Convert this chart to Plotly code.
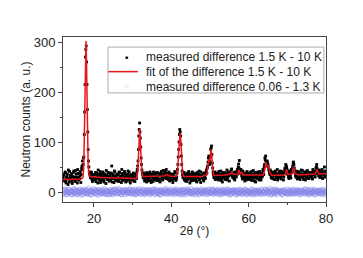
import numpy as np
import plotly.graph_objects as go

# measurement grids (2theta, degrees): even and odd sampling points
grid_even = np.round(np.arange(12.0, 80.0001, 0.2), 2)
grid_odd = np.round(np.arange(12.1, 79.95, 0.2), 2)

meas_15_10_even = [
    28, 35, 22, 40, 18, 31, 26, 44, 20, 33,
    29, 37, 17, 25, 42, 30, 21, 36, 27, 45,
    24, 38, 32, 19, 47, 62, 55, 70, 160, 270,
    292, 215, 120, 62, 40, 33, 28, 38, 21, 35,
    30, 24, 39, 27, 33, 18, 36, 29, 41, 23,
    32, 26, 37, 20, 34, 28, 43, 25, 31, 38,
    22, 35, 29, 52, 27, 33, 19, 40, 30, 24,
    36, 28, 21, 39, 26, 32, 45, 23, 34, 29,
    37, 20, 31, 27, 42, 25, 33, 18, 35, 28,
    24, 38, 29, 21, 34, 27, 45, 62, 112, 138,
    108, 68, 44, 35, 28, 38, 24, 32, 20, 36,
    29, 22, 37, 31, 19, 34, 27, 40, 25, 30,
    35, 23, 29, 38, 26, 21, 33, 41, 28, 24,
    36, 30, 42, 27, 38, 33, 25, 40, 22, 31,
    28, 35, 19, 32, 26, 38, 23, 30, 45, 70,
    100, 125, 112, 72, 42, 30, 36, 24, 33, 27,
    21, 38, 29, 34, 18, 31, 26, 40, 23, 35,
    30, 24, 37, 20, 33, 28, 42, 26, 19, 34,
    29, 36, 22, 31, 27, 40, 38, 52, 68, 58,
    62, 85, 92, 58, 40, 30, 36, 25, 33, 29,
    38, 24, 35, 30, 42, 27, 20, 36, 31, 39,
    26, 33, 44, 29, 37, 22, 34, 41, 46, 32,
    28, 39, 24, 35, 30, 42, 36, 56, 63, 40,
    45, 33, 26, 38, 30, 22, 37, 29, 41, 25,
    34, 27, 39, 31, 23, 36, 43, 28, 32, 20,
    35, 29, 40, 26, 37, 31, 24, 38, 33, 42,
    50, 68, 72, 58, 62, 55, 45, 38, 44, 30,
    36, 27, 40, 33, 25, 38, 31, 45, 28, 35,
    30, 42, 26, 37, 33, 24, 39, 48, 55, 50,
    40, 34, 27, 38, 31, 45, 40, 52, 60, 48,
    39, 30, 36, 26, 41, 33, 28, 37, 44, 31,
    35, 25, 40, 32, 38, 29, 43, 34, 27, 36,
    31, 39, 28, 45, 34, 37, 30, 48, 55, 42,
    36, 41, 30, 38, 33, 45, 28, 37, 50, 32,
    40,
]

meas_15_10_odd = [
    32, 24, 38, 21, 29, 36, 15, 27, 41, 25,
    34, 20, 31, 39, 26, 22, 43, 30, 18, 37,
    30, 26, 41, 35, 52, 45, 68, 115, 215, 285,
    260, 165, 85, 50, 36, 29, 40, 25, 33, 27,
    26, 35, 21, 38, 29, 44, 24, 32, 19, 36,
    28, 40, 23, 31, 36, 17, 33, 27, 39, 22,
    31, 25, 38, 20, 35, 29, 42, 24, 33, 27,
    22, 34, 40, 27, 30, 19, 37, 28, 25, 41,
    26, 33, 22, 36, 29, 40, 21, 31, 27, 34,
    31, 22, 36, 28, 33, 40, 52, 85, 125, 120,
    90, 55, 38, 30, 36, 22, 34, 27, 39, 25,
    33, 26, 40, 23, 30, 36, 21, 34, 29, 38,
    27, 39, 24, 32, 35, 20, 37, 26, 31, 43,
    29, 39, 33, 45, 28, 36, 31, 24, 37, 27,
    33, 24, 36, 28, 41, 30, 26, 38, 55, 85,
    115, 120, 95, 55, 35, 28, 39, 31, 22, 36,
    32, 25, 41, 27, 36, 22, 34, 29, 38, 24,
    35, 27, 22, 39, 31, 36, 24, 33, 40, 28,
    33, 25, 38, 29, 35, 44, 48, 60, 72, 55,
    70, 88, 75, 48, 35, 28, 40, 32, 26, 37,
    30, 41, 27, 36, 23, 33, 39, 28, 34, 25,
    37, 30, 24, 40, 32, 35, 38, 44, 36, 29,
    33, 27, 40, 31, 37, 45, 50, 48, 38, 44,
    38, 30, 42, 27, 35, 31, 24, 39, 33, 28,
    37, 30, 25, 41, 33, 28, 36, 22, 39, 31,
    27, 38, 33, 24, 41, 29, 36, 30, 45, 35,
    55, 64, 60, 52, 58, 50, 42, 35, 40, 28,
    31, 39, 26, 35, 42, 29, 37, 24, 33, 40,
    36, 28, 41, 32, 38, 30, 44, 40, 52, 46,
    36, 30, 42, 35, 28, 40, 47, 58, 55, 42,
    33, 42, 28, 37, 30, 39, 25, 35, 31, 43,
    29, 37, 33, 24, 41, 30, 36, 27, 39, 34,
    38, 33, 26, 40, 35, 42, 36, 50, 47, 39,
    32, 44, 29, 35, 40, 27, 38, 34, 42, 30,
]

meas_006_13_even = [
    2, -4, 5, -1, -6, 3, 0, -3, 6, -2,
    1, -5, 4, -2, 7, -4, 0, 3, -6, 2,
    -1, 5, -3, 2, -7, 4, 1, -2, 6, -4,
    3, -1, -5, 8, 0, -3, 4, -6, 2, 1,
    -2, 6, -4, 3, -1, 5, -7, 2, 0, -3,
    4, -2, 1, -5, 7, -1, 3, -4, 2, -6,
    0, 5, -3, 1, -6, 4, -2, 6, -1, 3,
    -4, 2, 7, -3, 0, -5, 4, 1, -2, 5,
    -6, 3, -1, 4, -3, 2, 6, -4, 0, -2,
    5, -1, -4, 3, -6, 1, 4, -2, 7, -3,
    2, -5, 0, 6, -3, 3, -1, -4, 5, 1,
    -2, 4, -6, 2, 0, -3, 5, -1, 3, -5,
    6, -2, 1, -4, 3, 0, -6, 4, -1, 2,
    -3, 5, -1, 7, -4, 2, -2, 3, -5, 0,
    4, -3, 2, -1, 6, -5, 1, -2, 3, -4,
    0, 3, -6, 5, -2, 4, -1, -3, 6, 1,
    -5, 2, 4, -1, 0, -4, 7, -2, 3, -3,
    1, -6, 3, 5, -2, 0, -4, 2, -1, 6,
    -3, 4, -1, -5, 3, 1, -2, 5, -4, 2,
    0, -3, 6, -1, 4, -5, 2, -2, 3, -1,
    5, -4, 1, 3, -6, 2, -1, 4, -3, 0,
    -2, 6, -3, 1, -4, 5, 0, -5, 3, -1,
    4, -1, 2, -6, 3, -2, 5, -3, 1, -4,
    -1, 3, -5, 4, 0, -2, 6, -4, 2, -3,
    3, -2, 0, -4, 5, 1, -6, 3, -1, 4,
    -5, 1, 4, -2, 2, -3, 0, 6, -4, 1,
    2, -4, 5, -1, -3, 4, -2, 0, 7, -5,
    -1, 3, -2, 6, -4, 1, 3, -6, 2, -1,
    4, -3, 1, -5, 3, 0, -2, 5, -1, -4,
    1, 6, -3, 2, -1, -5, 4, -2, 3, 0,
    -4, 2, 5, -3, 0, 3, -6, 1, -2, 4,
    3, -1, -4, 2, 6, -2, 0, -5, 4, -3,
    -2, 5, 1, -3, 2, -6, 4, 0, -1, 3,
    0, -4, 3, 1, -5, 2, -2, 6, -3, 1,
    -2,
]

meas_006_13_odd = [
    -3, 4, -1, 6, -5, 2, -2, 5, -4, 1,
    3, -6, 2, 0, -3, 5, -1, 4, -5, 2,
    -4, 1, 6, -2, 3, -5, 0, 4, -3, 2,
    5, -2, -4, 1, 3, -6, 2, 0, 6, -1,
    -3, 2, 4, -5, 1, -1, 5, -3, 3, -4,
    2, 6, -2, 0, -4, 3, -5, 1, 4, -1,
    -5, 1, 3, -2, 5, -3, 0, 6, -4, 2,
    4, -3, 0, 5, -1, -6, 2, -2, 3, 1,
    -1, 5, -4, 2, 0, -3, 6, -2, 4, -5,
    3, 0, -2, 6, -5, 1, -3, 4, -1, 2,
    -4, 3, 1, -2, 5, -6, 2, 0, -3, 4,
    1, -1, 5, -4, 3, -2, 0, 6, -5, 2,
    -2, 4, -3, 1, -6, 5, -1, 3, 0, -4,
    5, -2, 2, -5, 4, 0, -3, 1, 6, -1,
    -3, 1, -5, 3, -1, 4, -2, 6, -4, 2,
    2, -4, 4, 0, -3, 5, -6, 1, -2, 3,
    -1, 6, -2, 3, -4, 1, 0, -5, 4, -3,
    3, -1, 5, -3, 2, -6, 4, 0, -2, 1,
    -4, 2, 0, 5, -2, 3, -5, 1, 6, -3,
    1, -3, 4, -1, 6, -4, 2, -2, 0, 5,
    -5, 3, -1, 2, -3, 6, -4, 0, 4, -2,
    2, 0, -4, 5, -1, 3, -6, 2, -3, 4,
    -2, 5, 3, -3, 1, -5, 4, -1, 6, 0,
    4, -4, 1, -2, 5, -3, 2, -6, 3, -1,
    -1, 2, -5, 6, -2, 0, 4, -3, 1, -4,
    3, -2, 4, -1, -5, 2, 5, -4, 0, 1,
    -3, 6, -1, 2, 4, -5, 1, -2, 3, -6,
    5, -3, 0, -4, 2, 6, -2, 3, -1, 1,
    -2, 1, 4, -6, 3, -1, 5, -3, 2, -4,
    1, -5, 2, 4, -2, 0, -4, 6, -3, 3,
    -4, 3, -2, 1, 5, -3, 2, -1, -5, 4,
    2, -1, 6, -4, 0, 3, -2, 5, -6, 1,
    -3, 4, -1, -2, 6, 1, -5, 3, 0, -4,
    4, -2, 1, 5, -3, -1, 3, -6, 2, 0,
]

fit_x = [12, 16.8, 17.2, 17.4, 17.6, 17.8, 17.95, 18.1, 18.3, 18.5, 18.7, 19.0,
         22, 26, 30, 31.0, 31.3, 31.5, 31.7, 31.85, 32.0, 32.2, 32.4, 32.7,
         35, 38.0, 38.8, 39.5, 41.3, 41.6, 41.9, 42.1, 42.3, 42.5, 42.7, 42.9, 43.2,
         48, 49.2, 49.5, 49.7, 49.9, 50.1, 50.3, 50.5, 50.7, 51.0,
         54, 55.2, 55.6, 56.0, 57.2, 57.5, 57.8, 58.2, 58.5,
         63.8, 64.2, 64.5, 64.8, 65.1, 65.5, 66.0, 69.4, 69.8, 70.2,
         71.2, 71.6, 72.0, 73.0, 77.2, 77.7, 78.1, 80]
fit_y = [25, 26, 30, 60, 150, 260, 302, 250, 130, 55, 35, 31,
         29, 28, 27, 27, 40, 80, 122, 126, 100, 60, 38, 31,
         31, 32, 35, 32, 31, 40, 80, 110, 118, 100, 60, 38, 31,
         31, 35, 55, 66, 60, 70, 86, 70, 45, 33,
         34, 36, 40, 35, 36, 44, 36, 40, 34,
         34, 45, 60, 50, 53, 38, 33, 34, 45, 35,
         36, 50, 37, 34, 36, 45, 36, 37]

x_ticks = [20, 40, 60, 80]
y_ticks = [0, 100, 200, 300]

labels = ["measured difference 1.5 K - 10 K",
          "fit of the difference 1.5 K - 10 K",
          "measured difference 0.06 - 1.3 K"]

BLUE = "rgba(135,135,235,0.6)"
RED = "#e8141c"

fig = go.Figure()
fig.add_trace(go.Scatter(
    x=np.concatenate([grid_even, grid_odd]),
    y=meas_006_13_even + meas_006_13_odd,
    mode="markers", name=labels[2],
    marker=dict(symbol="circle-open", size=4, color=BLUE, line=dict(width=1)),
    showlegend=False))
fig.add_trace(go.Scatter(
    x=np.concatenate([grid_even, grid_odd]),
    y=meas_15_10_even + meas_15_10_odd,
    mode="markers", name=labels[0],
    marker=dict(symbol="square", size=2.8, color="black"),
    showlegend=False))
fig.add_trace(go.Scatter(
    x=fit_x, y=fit_y, mode="lines", name=labels[1],
    line=dict(color=RED, width=1.5),
    showlegend=False))

# legend drawn as a framed box with text entries
legend_rows_y = [0.877, 0.790, 0.699]
for lab, yy in zip(labels, legend_rows_y):
    fig.add_annotation(xref="paper", yref="paper", x=0.308, y=yy, text=lab,
                       showarrow=False, xanchor="left", yanchor="middle",
                       font=dict(size=12, color="#222"))
fig.add_annotation(xref="paper", yref="paper", x=0.243, y=legend_rows_y[0], text="■",
                   showarrow=False, xanchor="center", yanchor="middle",
                   font=dict(size=5, color="black"))
fig.add_annotation(xref="paper", yref="paper", x=0.243, y=legend_rows_y[2], text="○",
                   showarrow=False, xanchor="center", yanchor="middle",
                   font=dict(size=8, color=BLUE))
fig.add_shape(type="line", xref="paper", yref="paper", x0=0.171, x1=0.285,
              y0=legend_rows_y[1], y1=legend_rows_y[1],
              line=dict(color=RED, width=1.5))
fig.add_shape(type="rect", xref="paper", yref="paper", x0=0.171, x1=0.992,
              y0=0.661, y1=0.939, line=dict(color="#aaa", width=1),
              fillcolor="rgba(0,0,0,0)")

axis_common = dict(showgrid=False, zeroline=False, showline=True, linecolor="#444",
                   linewidth=1, mirror=True, ticks="outside", ticklen=4,
                   tickcolor="#444", tickfont=dict(size=13, color="#222"),
                   automargin=True)

fig.update_layout(
    width=347, height=242,
    margin=dict(l=55, r=29, t=29, b=48),
    paper_bgcolor="white", plot_bgcolor="white",
    font=dict(family="Liberation Sans, Arial, sans-serif", color="#222"),
    showlegend=False,
    xaxis=dict(range=[12, 80], tickvals=x_ticks, **axis_common,
               minor=dict(ticks="outside", ticklen=2, tickcolor="#444", tickvals=[30, 50, 70]),
               title=dict(text="2θ (°)", font=dict(size=12), standoff=2)),
    yaxis=dict(range=[-20, 310], tickvals=y_ticks, **axis_common,
               minor=dict(ticks="outside", ticklen=2, tickcolor="#444", tickvals=[50, 150, 250]),
               title=dict(text="Neutron counts (a. u.)", font=dict(size=12), standoff=0)),
)

fig.write_html("out.html")
